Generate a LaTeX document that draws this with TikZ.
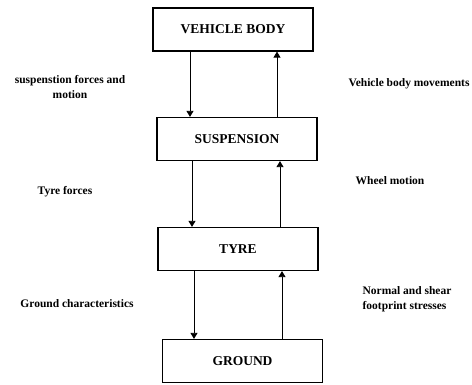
\documentclass[tikz,border=0pt]{standalone}
\usepackage{fontspec}
\setmainfont{Liberation Serif}
\usetikzlibrary{arrows.meta}
\tikzset{
  block/.style={draw, line width=1.2pt, minimum width=160pt, minimum height=43pt,
    inner sep=0pt, font=\bfseries\fontsize{13.5}{15}\selectfont},
  note/.style={font=\bfseries\fontsize{11.5}{14.5}\selectfont, align=center},
  flow/.style={line width=0.8pt, -{Triangle[width=7pt,length=6pt]}}
}
\begin{document}
\begin{tikzpicture}[x=1pt,y=-1pt]
	\useasboundingbox (0,0) rectangle (472,385);
	
	% blocks
	\node[block] (vb) at (233,29.5) {VEHICLE BODY};
	\node[block] (sus) at (237,139) {SUSPENSION};
	\node[block] (tyre) at (238,249) {TYRE};
	\node[block] (gnd) at (242.5,361) {GROUND};
	
	% arrow lanes
	\coordinate (d1) at (190,0);
	\coordinate (u1) at (277,0);
	\coordinate (d2) at (192,0);
	\coordinate (u2) at (280,0);
	\coordinate (d3) at (194,0);
	\coordinate (u3) at (282,0);
	
	\draw[flow] (vb.south -| d1) -- (sus.north -| d1);
	\draw[flow] (sus.north -| u1) -- (vb.south -| u1);
	\draw[flow] (sus.south -| d2) -- (tyre.north -| d2);
	\draw[flow] (tyre.north -| u2) -- (sus.south -| u2);
	\draw[flow] (tyre.south -| d3) -- (gnd.north -| d3);
	\draw[flow] (gnd.north -| u3) -- (tyre.south -| u3);
	
	% labels
	\node[note] (sfm) at (70,87) {suspenstion forces and\\motion};
	\node[note] (vbm) at (409,84) {Vehicle body movements};
	\node[note] (tf) at (65,192) {Tyre forces};
	\node[note] (wm) at (390,181) {Wheel motion};
	\node[note] (gc) at (77,304) {Ground characteristics};
	\node[note, align=left] (nss) at (407,299) {Normal and shear\\footprint stresses};
\end{tikzpicture}
\end{document}
